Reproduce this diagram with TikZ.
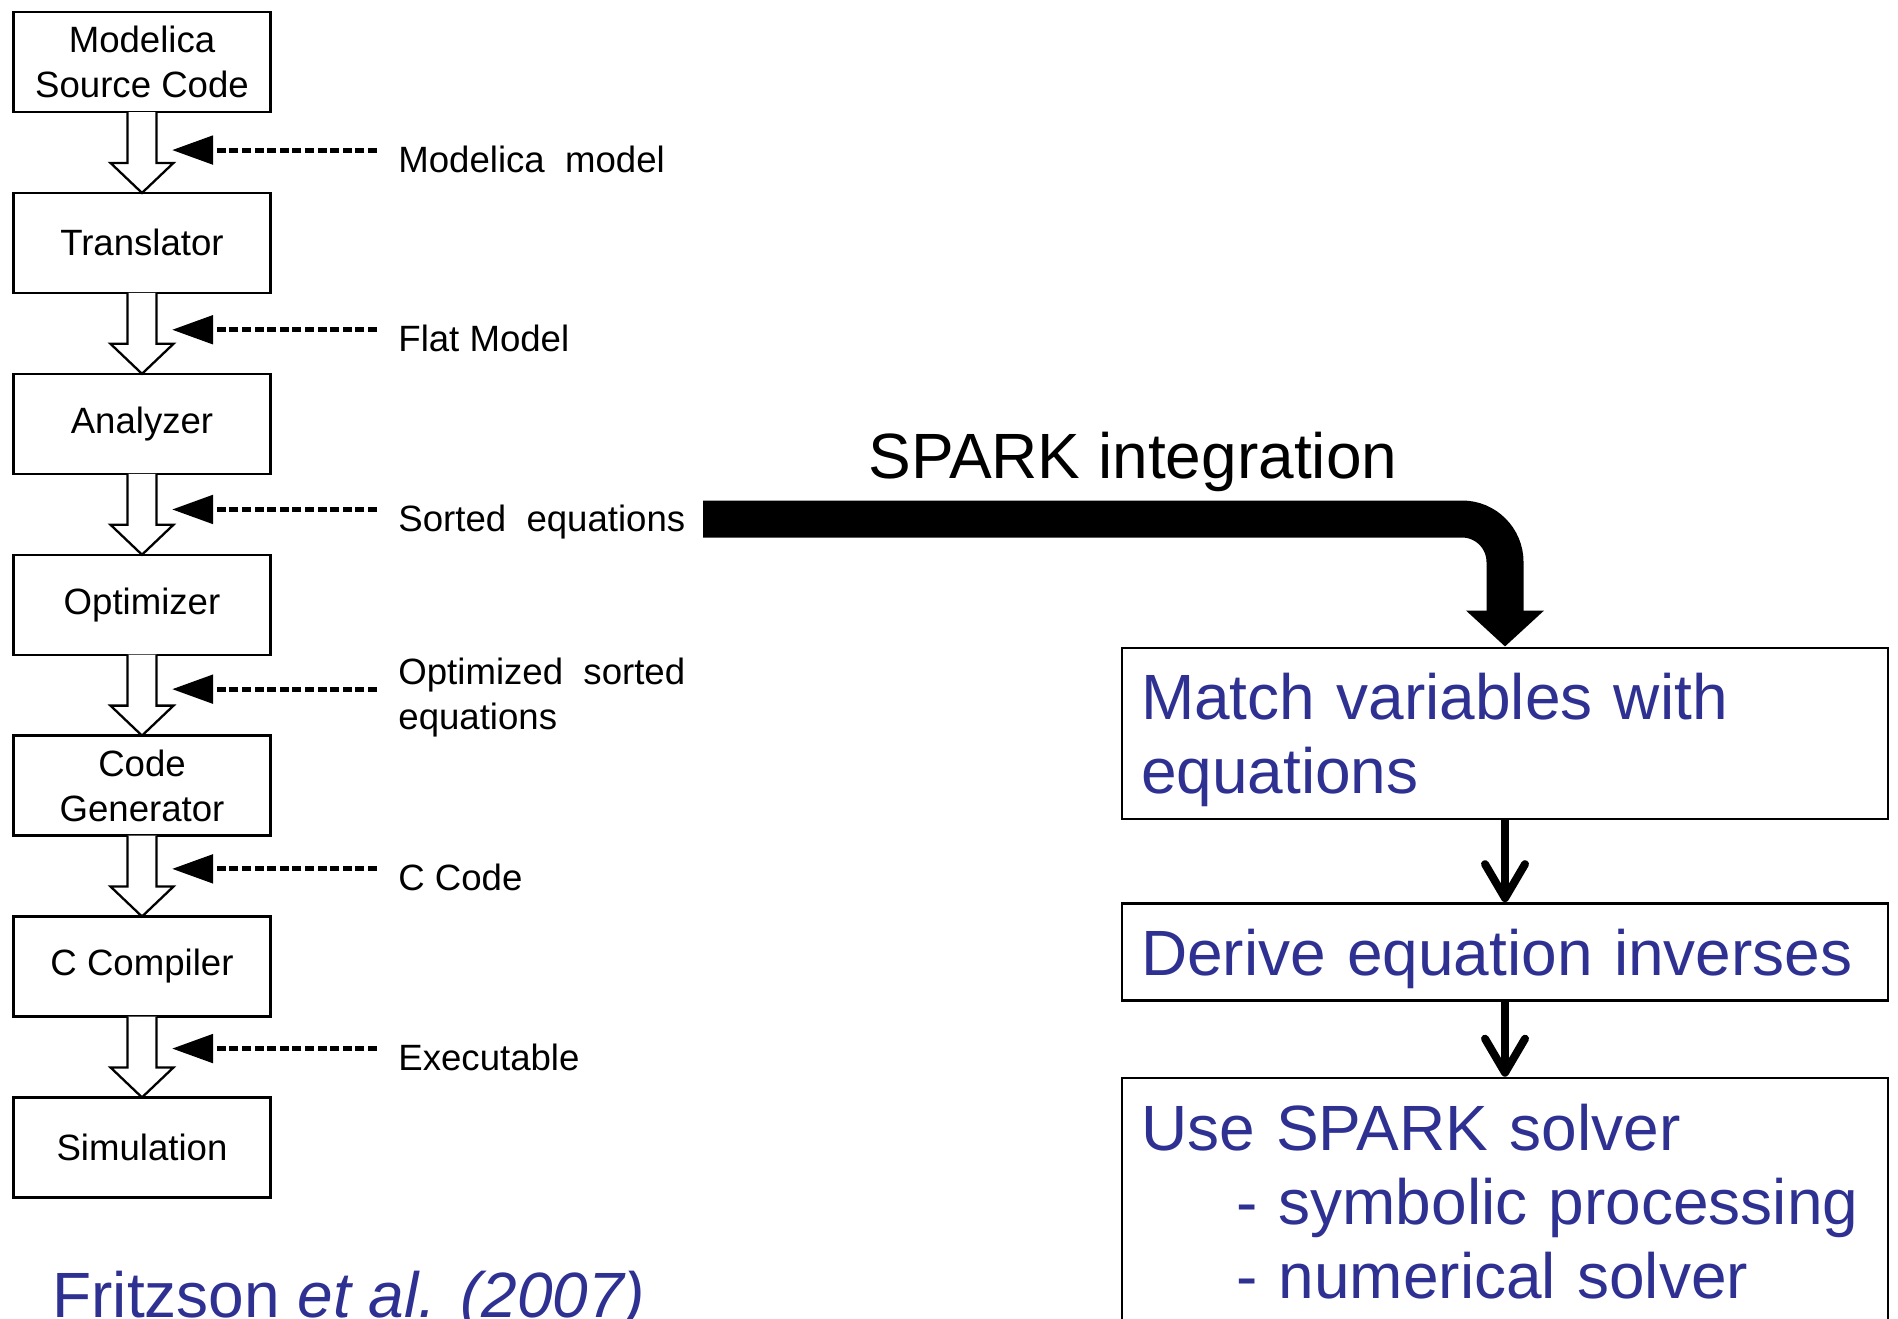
\documentclass[tikz,border=0pt]{standalone}
\usepackage{fontspec}
\setmainfont{Liberation Sans}
\usetikzlibrary{positioning,calc,arrows.meta}

\definecolor{sparkblue}{RGB}{46,49,146}
\newcommand\flowfont{\fontsize{18.3}{22.5}\selectfont}
\newcommand\sparkfont{\fontsize{32}{37}\selectfont}

\begin{document}
\begin{tikzpicture}[
      stage/.style={
        draw,
        line width=1.15pt,
        minimum width=128.5pt,
        minimum height=50pt,
        inner sep=0pt,
        outer sep=0pt,
        align=center,
        font=\flowfont
      },
      note/.style={anchor=base west, align=left, inner sep=0pt, font=\flowfont},
      hollow/.style={draw, fill=white, line width=1.15pt},
      feed/.style={
        line width=2.5pt,
        dash pattern=on 4.5pt off 1.8pt,
        -{Triangle[length=20.5pt,width=14pt]}
      },
      sparkbox/.style={
        draw,
        line width=1.3pt,
        text width=364pt,
        inner xsep=9.5pt,
        inner ysep=0pt,
        text height=36pt,
        align=left,
        font=\sparkfont,
        text=sparkblue
      },
      spark/.style={line width=18.5pt, rounded corners=21.5pt, -{Triangle[length=18pt,width=38pt]}},
      flow/.style={line width=4pt, -{Straight Barb[length=17pt,width=20pt,round]}},
      node distance=40.45pt
    ]
    \useasboundingbox (0,0) rectangle (949pt,-659pt);

    % Modelica tool chain
    \node[stage, anchor=north] (source) at (71pt,-6pt) {Modelica\\Source Code};
    \node[stage, below=of source] (translator) {Translator};
    \node[stage, below=of translator] (analyzer) {Analyzer};
    \node[stage, below=of analyzer] (optimizer) {Optimizer};
    \node[stage, below=of optimizer] (codegen) {Code\\Generator};
    \node[stage, below=of codegen] (compiler) {C Compiler};
    \node[stage, below=of compiler] (simulation) {Simulation};

    \foreach \a/\b/\i in {source/translator/1, translator/analyzer/2, analyzer/optimizer/3,
                          optimizer/codegen/4, codegen/compiler/5, compiler/simulation/6} {
      \draw[hollow] ([xshift=-7.25pt]\a.south) -- ([xshift=-7.25pt,yshift=15pt]\b.north)
        -- ([xshift=-15.75pt,yshift=15pt]\b.north) -- (\b.north)
        -- ([xshift=15.75pt,yshift=15pt]\b.north) -- ([xshift=7.25pt,yshift=15pt]\b.north)
        -- ([xshift=7.25pt]\a.south);
      \coordinate (gap\i) at ($(\a.south)!.5!(\b.north)+(0,{0.6pt+\i*0.6pt})$);
      \draw[feed] ([xshift=117.5pt]gap\i) -- ([xshift=15pt]gap\i);
    }

    \node[note] (flat1) at ([xshift=128pt,yshift=-11pt]gap1) {Modelica\ \ model};
    \node[note] (flat2) at ([xshift=128pt,yshift=-11pt]gap2) {Flat Model};
    \node[note] (flat3) at ([xshift=128pt,yshift=-11pt]gap3) {Sorted\ \ equations};
    \node[note] (flat4) at ([xshift=128pt,yshift=-20pt]gap4) {Optimized\ \ sorted\\equations};
    \node[note] (flat5) at ([xshift=128pt,yshift=-11pt]gap5) {C Code};
    \node[note] (flat6) at ([xshift=128pt,yshift=-11pt]gap6) {Executable};

    \node[anchor=base west, inner sep=0pt, font=\sparkfont, text=sparkblue]
      (cite) at (26pt,-658.5pt) {Fritzson \textit{et al. (2007)}};

    % SPARK steps
    \node[sparkbox, anchor=north, text depth=49.5pt]
      (match) at (752.5pt,-323.25pt)
      {Match variables with\\equations};
    \node[sparkbox, below=41pt of match, text depth=12.5pt]
      (derive)
      {Derive equation inverses};
    \node[sparkbox, below=37.5pt of derive, text depth=130pt]
      (solver)
      {Use SPARK solver\\
      \hspace*{47.5pt}- symbolic processing\\
      \hspace*{47.5pt}- numerical solver};

    \draw[flow] (match) -- (derive);
    \draw[flow] (derive) -- (solver);

    \node[anchor=base west, inner sep=0pt, font=\sparkfont]
      (sparklabel) at (434pt,-239pt) {SPARK integration};
    \coordinate (sparkstart) at (351.5pt,-259.5pt);
    \draw[spark] (sparkstart) -| (match.north);
  \end{tikzpicture}
\end{document}
